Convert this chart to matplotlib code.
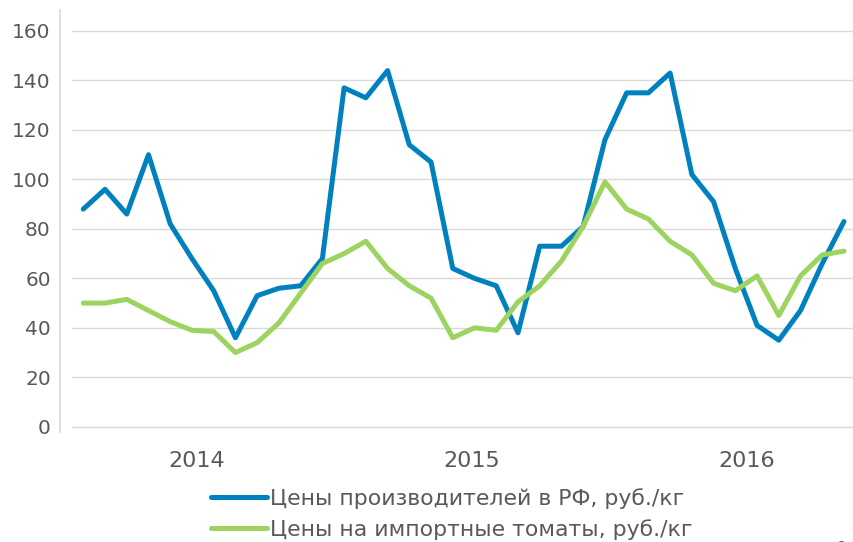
import matplotlib
matplotlib.use("Agg")
import matplotlib.pyplot as plt
import numpy as np

plt.rcParams['font.family'] = ['DejaVu Sans']

# monthly prices, Jan 2014 .. Dec 2016
producer_prices = [88, 96, 86, 110, 82, 68, 55, 36, 53, 56, 57, 68,
                   137, 133, 144, 114, 107, 64, 60, 57, 38, 73,
                   73, 81, 116, 135, 135, 143, 102, 91, 64, 41, 35, 47, 66, 83]
import_prices = [50, 50, 51.5, 47, 42.5, 39, 38.5, 30, 34, 42, 54, 66,
                 70, 75, 64, 57, 52, 36, 40, 39, 50.5, 57, 67, 81,
                 99, 88, 84, 75, 69.5, 58, 55, 61, 45, 61, 69.5, 71]
years = ["2014", "2015", "2016"]
legend_labels = ["Цены производителей в РФ, руб./кг",
                 "Цены на импортные томаты, руб./кг"]

blue = "#0081BF"
green = "#9DD35F"
grey_text = "#595959"
grid_grey = "#D9D9D9"

fig = plt.figure(figsize=(8.54, 5.42), dpi=100)
ax = fig.add_axes([0.0848, 0.203, 0.9162, 0.7786])

x = np.arange(len(producer_prices))
l1, = ax.plot(x, producer_prices, color=blue, lw=3.6,
              solid_joinstyle='round', solid_capstyle='round')
l2, = ax.plot(x, import_prices, color=green, lw=3.6,
              solid_joinstyle='round', solid_capstyle='round')

ax.set_xlim(-0.5, 35.5)
ax.set_ylim(-2.1, 168.5)
ax.set_yticks(np.arange(0, 161, 20))
ax.yaxis.grid(True, color=grid_grey, lw=1.0)
ax.set_axisbelow(True)

for s in ['top', 'right', 'bottom']:
    ax.spines[s].set_visible(False)
ax.spines['left'].set_position(('outward', 8.6))
ax.spines['left'].set_color(grid_grey)
ax.spines['left'].set_linewidth(1.2)

ax.tick_params(axis='y', length=0, pad=7, labelsize=14.5, labelcolor=grey_text)
ax.set_xticks([5.23, 17.89, 30.54])
ax.set_xticklabels(years)
ax.tick_params(axis='x', length=0, pad=14, labelsize=16, labelcolor=grey_text)

leg = fig.legend([l1, l2], legend_labels, loc='upper left',
                 bbox_to_anchor=(0.247, 0.100), frameon=False,
                 fontsize=15.8, handlelength=2.55, handletextpad=0.15,
                 labelspacing=0.48, borderpad=0, borderaxespad=0)
for t in leg.get_texts():
    t.set_color(grey_text)

fig.text(0.985, -0.012, "1", fontsize=12, color=grey_text, ha='center', va='center')

fig.savefig("out.png", dpi=100)
